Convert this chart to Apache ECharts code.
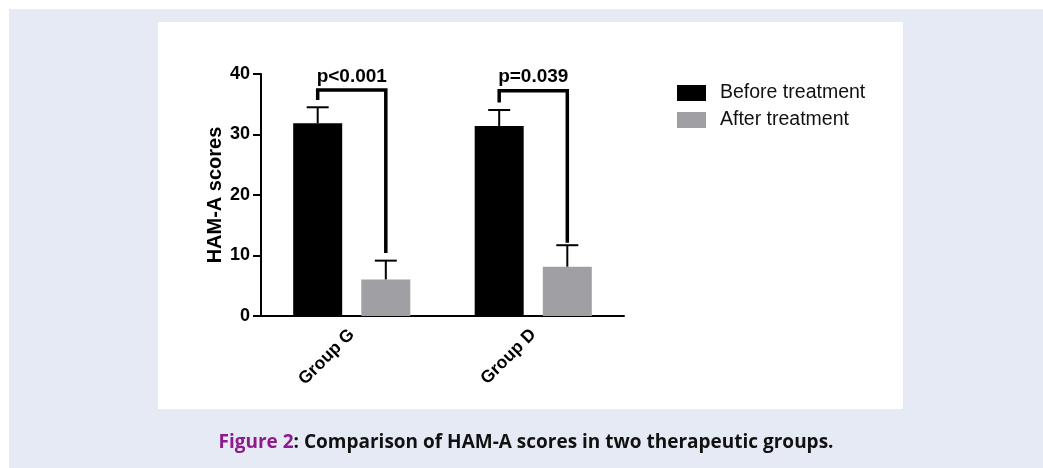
<!DOCTYPE html>
<html>
<head>
<meta charset="utf-8">
<script src="https://cdn.jsdelivr.net/npm/echarts@6/dist/echarts.min.js"></script>
<style>
html,body{margin:0;padding:0;background:#fff;}
#chart{width:1043px;height:468px;}
</style>
</head>
<body>
<div id="chart"></div>
<script>
// ---- data ----
const categories = ['Group G', 'Group D'];
const seriesNames = ['Before treatment', 'After treatment'];
const beforeMeans = [31.85, 31.4];
const beforeSD = [2.65, 2.65];
const afterMeans = [6.05, 8.15];
const afterSD = [3.1, 3.55];
const bracketTop = [37.35, 37.25];
const bracketLeftEnd = [35.7, 35.3];
const bracketRightEnd = [10.4, 12.1];
const pLabels = ['p<0.001', 'p=0.039'];
const yTicks = [0, 10, 20, 30, 40];
const yAxisName = 'HAM-A scores';
const captionLead = 'Figure 2';
const captionRest = ': Comparison of HAM-A scores in two therapeutic groups.';

// ---- layout helpers ----
const BAR_W = 0.27;          // fraction of band
const BAR_GAP = 0.39;        // fraction of bar width
const OFF = (BAR_W + BAR_W * BAR_GAP) / 2;

const errData = [];
categories.forEach((c, i) => {
  errData.push([i, 0, beforeMeans[i], beforeMeans[i] + beforeSD[i]]);
  errData.push([i, 1, afterMeans[i], afterMeans[i] + afterSD[i]]);
});
const bracketData = categories.map((c, i) => [i, bracketTop[i], bracketLeftEnd[i], bracketRightEnd[i]]);

const chart = echarts.init(document.getElementById('chart'), null, {renderer: 'canvas'});
const FONT = '"Liberation Sans", Arial, sans-serif';

chart.setOption({
  animation: false,
  backgroundColor: '#ffffff',
  graphic: [
    {type: 'rect', shape: {x: 9, y: 9, width: 1034, height: 459}, style: {fill: '#e6eaf5'}, z: -10, silent: true},
    {type: 'rect', shape: {x: 158, y: 22, width: 745, height: 387}, style: {fill: '#ffffff'}, z: -9, silent: true},
    {type: 'text', x: 526, y: 443, z: 10,
     style: {
       text: '{a|' + captionLead + '}{b|' + captionRest + '}',
       align: 'center', verticalAlign: 'middle',
       rich: {
         a: {fontFamily: '"Open Sans", sans-serif', fontWeight: 'bold', fontSize: 19, fill: '#8e1a8e', color: '#8e1a8e'},
         b: {fontFamily: '"Open Sans", sans-serif', fontWeight: 'bold', fontSize: 19, fill: '#111', color: '#111'}
       }
     }}
  ],
  legend: {
    data: seriesNames,
    orient: 'vertical',
    left: 672, top: 78,
    itemWidth: 29, itemHeight: 16, itemGap: 7,
    icon: 'rect',
    textStyle: {fontFamily: FONT, fontSize: 19.5, color: '#111', padding: [0, 0, 0, 9]}
  },
  grid: {left: 261, right: 419, top: 74, bottom: 152, containLabel: false},
  xAxis: {
    type: 'category',
    data: categories,
    axisLine: {lineStyle: {color: '#000', width: 2}},
    axisTick: {alignWithLabel: true, length: 6, lineStyle: {color: '#000', width: 2}},
    axisLabel: {rotate: 45, margin: 16, fontFamily: FONT, fontWeight: 'bold', fontSize: 17.5, color: '#000'},
    splitLine: {show: false}
  },
  yAxis: {
    type: 'value',
    min: yTicks[0], max: yTicks[yTicks.length - 1], interval: 10,
    name: yAxisName, nameLocation: 'middle', nameRotate: 90, nameGap: 36,
    nameTextStyle: {fontFamily: FONT, fontWeight: 'bold', fontSize: 20, color: '#000'},
    axisLine: {show: true, lineStyle: {color: '#000', width: 2}},
    axisTick: {show: true, length: 8, lineStyle: {color: '#000', width: 2}},
    axisLabel: {margin: 11, fontFamily: FONT, fontWeight: 'bold', fontSize: 18, color: '#000'},
    splitLine: {show: false}
  },
  series: [
    {name: seriesNames[0], type: 'bar', data: beforeMeans, barWidth: (BAR_W * 100) + '%', barGap: (BAR_GAP * 100) + '%', itemStyle: {color: '#000000'}},
    {name: seriesNames[1], type: 'bar', data: afterMeans, barWidth: (BAR_W * 100) + '%', itemStyle: {color: '#a0a0a4'}},
    {
      type: 'custom', z: 5, silent: true,
      data: errData,
      renderItem: function (params, api) {
        const c = api.value(0), s = api.value(1);
        const band = api.size([1, 0])[0];
        const cx = api.coord([c, 0])[0] + (s === 0 ? -1 : 1) * band * OFF;
        const y0 = api.coord([c, api.value(2)])[1];
        const y1 = api.coord([c, api.value(3)])[1];
        const cap = 11;
        const st = {stroke: '#000', lineWidth: 2};
        return {type: 'group', children: [
          {type: 'line', shape: {x1: cx, y1: y0, x2: cx, y2: y1}, style: st},
          {type: 'line', shape: {x1: cx - cap, y1: y1, x2: cx + cap, y2: y1}, style: st}
        ]};
      }
    },
    {
      type: 'custom', z: 6, silent: true,
      data: bracketData,
      renderItem: function (params, api) {
        const c = api.value(0);
        const band = api.size([1, 0])[0];
        const cx = api.coord([c, 0])[0];
        const xl = cx - band * OFF, xr = cx + band * OFF;
        const yt = api.coord([c, api.value(1)])[1];
        const yl = api.coord([c, api.value(2)])[1];
        const yr = api.coord([c, api.value(3)])[1];
        return {type: 'group', children: [
          {type: 'polyline', shape: {points: [[xl, yl], [xl, yt], [xr, yt], [xr, yr]]},
           style: {stroke: '#000', lineWidth: 3.5, fill: 'none', lineJoin: 'miter'}},
          {type: 'text', style: {text: pLabels[params.dataIndex], x: (xl + xr) / 2, y: yt - 4,
            align: 'center', verticalAlign: 'bottom',
            font: 'bold 19px "Liberation Sans", Arial, sans-serif', fill: '#000'}}
        ]};
      }
    }
  ]
});
</script>
</body>
</html>
